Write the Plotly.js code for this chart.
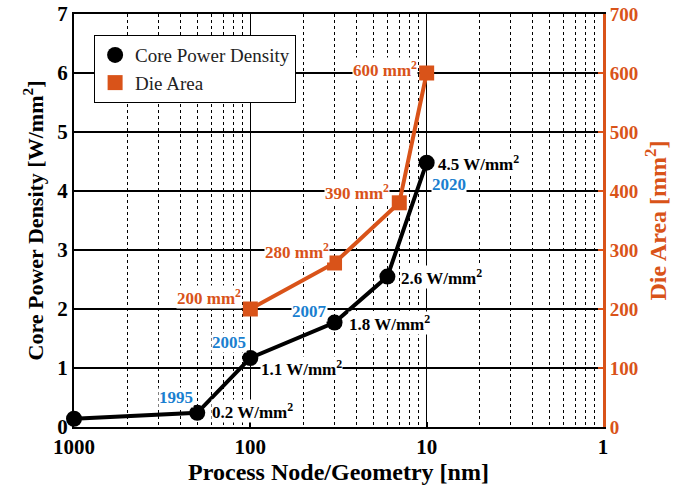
<!DOCTYPE html>
<html>
<head>
<meta charset="utf-8">
<script src="https://cdn.plot.ly/plotly-3.0.1.min.js"></script>
<style>html,body{margin:0;padding:0;background:#fff}#chart{width:699px;height:489px}</style>
</head>
<body>
<div id="chart"></div>
<script>
// Data
const nodeNm      = [1000, 200, 100, 33.3, 16.7, 10];      // process node [nm]
const powerDens   = [0.14, 0.24, 1.17, 1.77, 2.55, 4.48];  // W/mm^2
const powerLabels = ['', '0.2 W/mm<sup>2</sup>', '1.1 W/mm<sup>2</sup>', '1.8 W/mm<sup>2</sup>', '2.6 W/mm<sup>2</sup>', '4.5 W/mm<sup>2</sup>'];
const yearLabels  = ['', '1995', '2005', '2007', '', '2020'];
const dieNode     = [100, 33.3, 14.3, 10];
const dieArea     = [200, 278, 380, 600];                  // mm^2
const dieLabels   = ['200 mm<sup>2</sup>', '280 mm<sup>2</sup>', '390 mm<sup>2</sup>', '600 mm<sup>2</sup>'];
const xTickVals   = [1000, 100, 10, 1];
const xTickText   = ['1000', '100', '10', '1'];

const BLACK = '#000000', ORANGE = '#D95319', BLUE = '#1a7fd0';
const FONT = '"Liberation Serif", "DejaVu Serif", serif';

// minor grid positions (as in reference: decade/k, k=2..9)
const minorVals = [];
[1000, 100, 10].forEach(d => { for (let k = 2; k <= 9; k++) minorVals.push(d / k); });

const traces = [
  {x: nodeNm, y: powerDens, mode: 'lines', line: {color: BLACK, width: 4}, showlegend: false, cliponaxis: false, hoverinfo: 'skip'},
  {x: nodeNm, y: powerDens, mode: 'markers', name: 'Core Power Density', marker: {color: BLACK, size: 16, symbol: 'circle'}, cliponaxis: false},
  {x: dieNode, y: dieArea, yaxis: 'y2', mode: 'lines', line: {color: ORANGE, width: 4}, showlegend: false, cliponaxis: false, hoverinfo: 'skip'},
  {x: dieNode, y: dieArea, yaxis: 'y2', mode: 'markers', name: 'Die Area', marker: {color: ORANGE, size: 15, symbol: 'square'}, cliponaxis: false}
];

// label placement offsets (pixels)
const powerOff = [null, [14, 2], [10, -10], [13, 0], [13, 0], [10, 0]];
const yearOff  = [null, [-3, 15], [-3, 15], [-7, 11], null, [4, -22]];
const dieOff   = [[-8, 12], [-5, 12], [-9, 11], [-9, 4]];

const annotations = [];
nodeNm.forEach((xv, i) => {
  if (powerLabels[i]) annotations.push({x: Math.log10(xv), y: powerDens[i], xref: 'x', yref: 'y', text: powerLabels[i], showarrow: false,
    xanchor: 'left', yanchor: 'middle', xshift: powerOff[i][0], yshift: powerOff[i][1], bgcolor: 'white', borderpad: 0,
    font: {family: FONT, size: 17, color: BLACK, weight: 'bold'}});
  if (yearLabels[i]) annotations.push({x: Math.log10(xv), y: powerDens[i], xref: 'x', yref: 'y', text: yearLabels[i], showarrow: false,
    xanchor: yearOff[i][0] < 0 ? 'right' : 'left', yanchor: 'middle', xshift: yearOff[i][0], yshift: yearOff[i][1], bgcolor: 'white', borderpad: 0,
    font: {family: FONT, size: 17, color: BLUE, weight: 'bold'}});
});
dieNode.forEach((xv, i) => {
  annotations.push({x: Math.log10(xv), y: dieArea[i], xref: 'x', yref: 'y2', text: dieLabels[i], showarrow: false,
    xanchor: 'right', yanchor: 'middle', xshift: dieOff[i][0], yshift: dieOff[i][1], bgcolor: 'white', borderpad: 0,
    font: {family: FONT, size: 17, color: ORANGE, weight: 'bold'}});
});

const layout = {
  width: 699, height: 489,
  margin: {l: 74, r: 96, t: 14, b: 62},
  paper_bgcolor: 'white', plot_bgcolor: 'white',
  font: {family: FONT, color: BLACK},
  showlegend: true,
  legend: {x: 0.038, y: 0.949, xanchor: 'left', yanchor: 'top', bgcolor: 'white', bordercolor: BLACK, borderwidth: 1,
    font: {family: FONT, size: 19, color: '#222'}, tracegroupgap: 0},
  xaxis: {
    type: 'log', range: [3, 0], autorange: false,
    tickmode: 'array', tickvals: xTickVals, ticktext: xTickText,
    tickfont: {family: FONT, size: 21, weight: 'bold'},
    showline: true, linecolor: BLACK, linewidth: 2, mirror: true,
    ticks: 'inside', ticklen: 5, tickwidth: 2, tickcolor: BLACK,
    showgrid: true, gridcolor: BLACK, gridwidth: 1.5,
    minor: {tickmode: 'array', tickvals: minorVals, showgrid: true, gridcolor: BLACK, griddash: 'dot', gridwidth: 1, ticks: ''},
    zeroline: false,
    title: {text: 'Process Node/Geometry [nm]', font: {family: FONT, size: 24, weight: 'bold'}, standoff: 3}
  },
  yaxis: {
    range: [0, 7], autorange: false, dtick: 1, tick0: 0,
    tickfont: {family: FONT, size: 21, weight: 'bold'},
    showline: true, linecolor: BLACK, linewidth: 2,
    ticks: 'inside', ticklen: 5, tickwidth: 2, tickcolor: BLACK,
    showgrid: true, gridcolor: BLACK, gridwidth: 1.5, zeroline: false,
    title: {text: 'Core Power Density [W/mm<sup>2</sup>]', font: {family: FONT, size: 22, weight: 'bold'}, standoff: 8}
  },
  yaxis2: {
    overlaying: 'y', side: 'right',
    range: [0, 700], autorange: false, dtick: 100, tick0: 0,
    tickfont: {family: FONT, size: 19, color: ORANGE, weight: 'bold'},
    showline: true, linecolor: ORANGE, linewidth: 3,
    ticks: 'inside', ticklen: 5, tickwidth: 2, tickcolor: ORANGE,
    showgrid: false, zeroline: false,
    title: {text: 'Die Area [mm<sup>2</sup>]', font: {family: FONT, size: 24, color: ORANGE, weight: 'bold'}, standoff: 12}
  },
  annotations: annotations
};

Plotly.newPlot('chart', traces, layout, {displayModeBar: false, staticPlot: true});
</script>
</body>
</html>
